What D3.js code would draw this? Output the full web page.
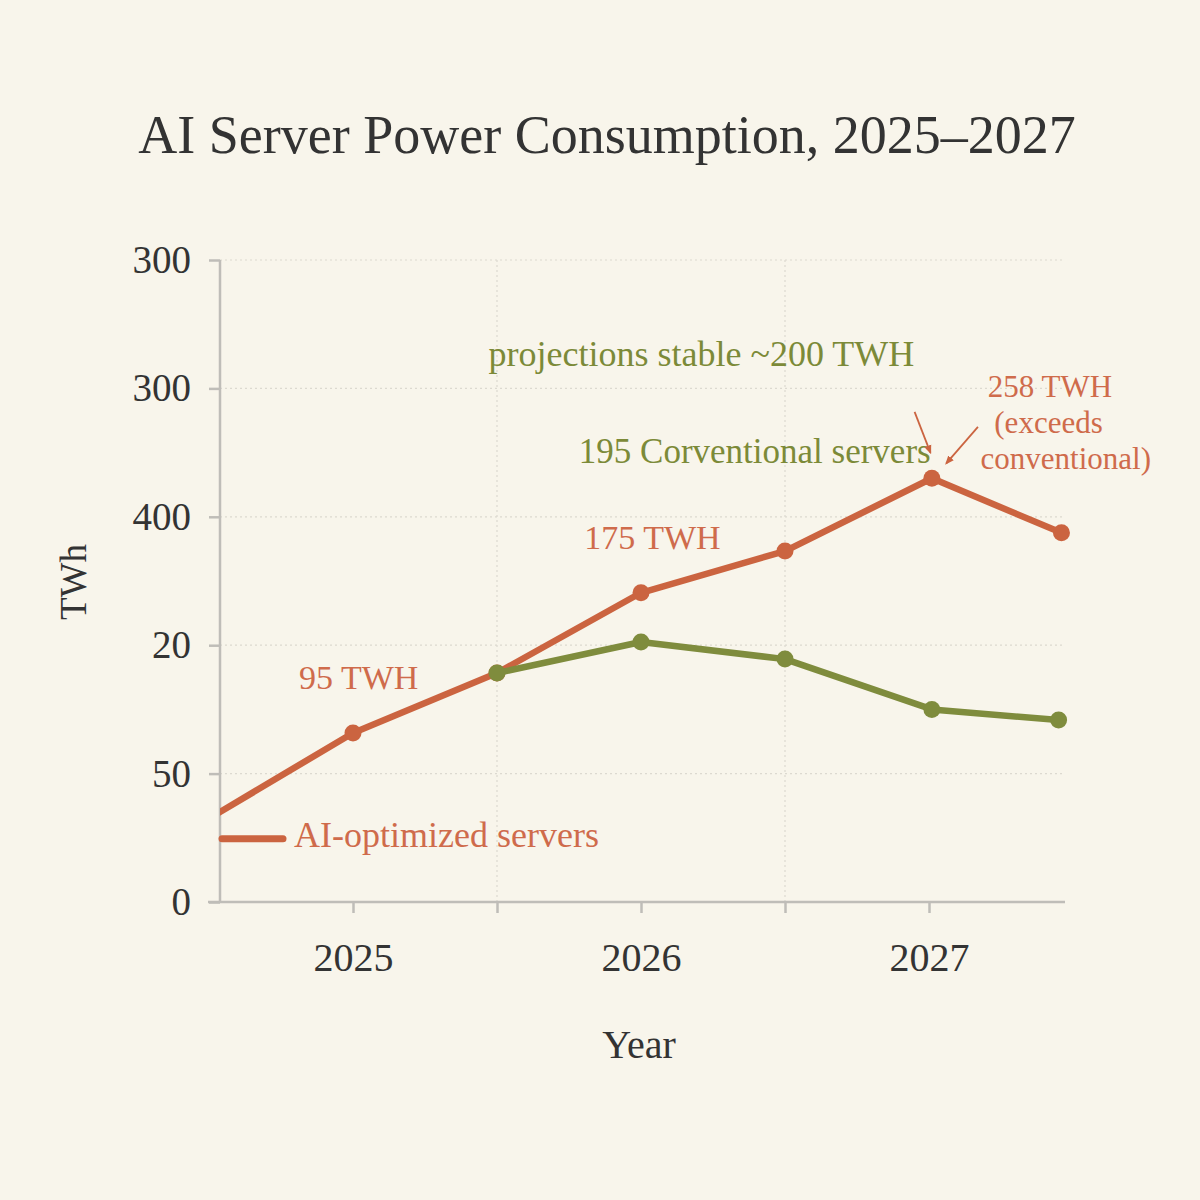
<!DOCTYPE html>
<html>
<head>
<meta charset="utf-8">
<script src="https://cdn.jsdelivr.net/npm/d3@7"></script>
<style>
  html, body { margin: 0; padding: 0; background: #f8f5eb; }
  svg { display: block; }
</style>
</head>
<body>
<svg id="chart" width="1200" height="1200"></svg>
<script>
// values (y in the chart's own units)
const aiYears = [2024.5, 2025, 2025.5, 2026, 2026.5, 2027.01, 2027.46]
const aiValues = [39, 79, 107, 144.5, 164, 198, 172.5]
const convYears = [2025.5, 2026, 2026.5, 2027.01, 2027.45]
const convValues = [107, 121.5, 113.5, 90, 85]
const aiMarked = [false, true, true, true, true, true, true]

const yTickValues = [0, 60, 120, 180, 240, 300]
const yTickLabels = ['0', '50', '20', '400', '300', '300']
const xTickValues = [2025, 2025.5, 2026, 2026.5, 2027]
const xTickLabels = ['2025', '', '2026', '', '2027']
const xGridValues = [2025.5, 2026.5]

const titleText = 'AI Server Power Consumption, 2025\u20132027'
const aiLabel = 'AI-optimized servers'
const notes = ['95 TWH', '175 TWH', 'projections stable ~200 TWH', '195 Corventional servers']
const peakNote = ['258 TWH', '(exceeds', 'conventional)']

const red = '#cb6440'
const redText = '#cf6b4b'
const green = '#7f8c3d'
const greenText = '#7c8a38'
const ink = '#333333'
const axisGrey = '#bfbdb8'
const font = '"Liberation Serif", "DejaVu Serif", serif'

const svg = d3.select('#chart')
svg.append('rect').attr('width', 1200).attr('height', 1200).attr('fill', '#f8f5eb')

const x = d3.scaleLinear().domain([2025, 2027]).range([353, 929])
const y = d3.scaleLinear().domain([0, 300]).range([902, 260])
const left = 220
const right = 1065

svg.append('text')
  .attr('x', 607).attr('y', 153)
  .attr('text-anchor', 'middle')
  .attr('font-family', font).attr('font-size', 54)
  .attr('fill', ink)
  .text(titleText)

// grid
const grid = svg.append('g').attr('stroke', '#dcd9d0').attr('stroke-width', 1.2).attr('stroke-dasharray', '2,3')
grid.selectAll('.hgrid').data(yTickValues.filter(v => v > 0)).enter().append('line')
  .attr('x1', left).attr('x2', right)
  .attr('y1', d => y(d)).attr('y2', d => y(d))
grid.selectAll('.vgrid').data(xGridValues).enter().append('line')
  .attr('x1', d => x(d)).attr('x2', d => x(d))
  .attr('y1', y(300)).attr('y2', y(0))

// y axis
const yAxis = svg.append('g')
  .attr('transform', `translate(${left},0)`)
  .call(d3.axisLeft(y).tickValues(yTickValues).tickFormat((d, i) => yTickLabels[i]).tickSize(11).tickPadding(18))
yAxis.select('.domain').attr('stroke', axisGrey).attr('stroke-width', 2.5).attr('d', `M0,${y(300)}V${y(0)}`)
yAxis.selectAll('.tick line').attr('stroke', axisGrey).attr('stroke-width', 2.5)
yAxis.selectAll('.tick text').attr('font-family', font).attr('font-size', 39).attr('fill', ink).attr('dy', '0.32em')

// x axis
const xAxis = svg.append('g')
  .attr('transform', `translate(0,${y(0)})`)
  .call(d3.axisBottom(x).tickValues(xTickValues).tickFormat((d, i) => xTickLabels[i]).tickSize(11).tickPadding(30))
xAxis.select('.domain').attr('stroke', axisGrey).attr('stroke-width', 2.5).attr('d', `M${left - 12},0H${right}`)
xAxis.selectAll('.tick line').attr('stroke', axisGrey).attr('stroke-width', 2.5)
xAxis.selectAll('.tick text').attr('font-family', font).attr('font-size', 40).attr('fill', ink)

svg.append('text')
  .attr('transform', `translate(86,582) rotate(-90)`)
  .attr('text-anchor', 'middle')
  .attr('font-family', font).attr('font-size', 37).attr('fill', ink)
  .text('TWh')

svg.append('text')
  .attr('x', 639).attr('y', 1058)
  .attr('text-anchor', 'middle')
  .attr('font-family', font).attr('font-size', 40).attr('fill', ink)
  .text('Year')

// lines
svg.append('clipPath').attr('id', 'plot')
  .append('rect').attr('x', left).attr('y', 200).attr('width', right - left + 20).attr('height', 720)

const line = d3.line().x(d => x(d[0])).y(d => y(d[1]))
const aiData = aiYears.map((d, i) => [d, aiValues[i], aiMarked[i]])
const convData = convYears.map((d, i) => [d, convValues[i]])

const plot = svg.append('g').attr('clip-path', 'url(#plot)')
plot.append('path').datum(aiData)
  .attr('d', line).attr('fill', 'none')
  .attr('stroke', red).attr('stroke-width', 6.5).attr('stroke-linejoin', 'round')
plot.selectAll('.ai-dot').data(aiData.filter(d => d[2])).enter().append('circle')
  .attr('cx', d => x(d[0])).attr('cy', d => y(d[1])).attr('r', 8.5).attr('fill', red)

plot.append('path').datum(convData)
  .attr('d', line).attr('fill', 'none')
  .attr('stroke', green).attr('stroke-width', 6.5).attr('stroke-linejoin', 'round')
plot.selectAll('.conv-dot').data(convData).enter().append('circle')
  .attr('cx', d => x(d[0])).attr('cy', d => y(d[1])).attr('r', 8.5).attr('fill', green)

// legend entry
svg.append('line')
  .attr('x1', left + 2).attr('x2', 283)
  .attr('y1', y(29.5)).attr('y2', y(29.5))
  .attr('stroke', red).attr('stroke-width', 7).attr('stroke-linecap', 'round')
svg.append('text')
  .attr('x', 294).attr('y', y(25.5))
  .attr('font-family', font).attr('font-size', 36).attr('fill', redText)
  .text(aiLabel)

// annotations
const noteText = (tx, ty, txt, color, size) => svg.append('text')
  .attr('x', tx).attr('y', ty)
  .attr('text-anchor', 'middle')
  .attr('font-family', font).attr('font-size', size).attr('fill', color)
  .text(txt)

noteText(x(2025.02), y(99.5), notes[0], redText, 34)
noteText(x(2026.04), y(165), notes[1], redText, 34)
noteText(x(2026.21), y(250.5), notes[2], greenText, 36)
noteText(x(2026.395), y(205), notes[3], greenText, 35)

// three-line peak note, spaced so the lines do not collide
const peakX = [2027.42, 2027.415, 2027.475]
peakNote.forEach((txt, i) => {
  noteText(x(peakX[i]), y(236) + i * 36, txt, redText, 31)
})

svg.append('defs').append('marker')
  .attr('id', 'tip')
  .attr('viewBox', '0 -5 10 10')
  .attr('refX', 8).attr('refY', 0)
  .attr('orient', 'auto')
  .attr('markerWidth', 5).attr('markerHeight', 5)
  .append('path').attr('d', 'M0,-4L10,0L0,4').attr('fill', red)

const arrows = [
  [[2026.95, 229], [2027.005, 210]],
  [[2027.17, 222], [2027.06, 205]]
]
svg.selectAll('.arrow').data(arrows).enter().append('line')
  .attr('x1', d => x(d[0][0])).attr('y1', d => y(d[0][1]))
  .attr('x2', d => x(d[1][0])).attr('y2', d => y(d[1][1]))
  .attr('stroke', red).attr('stroke-width', 1.8)
  .attr('marker-end', 'url(#tip)')
</script>
</body>
</html>
